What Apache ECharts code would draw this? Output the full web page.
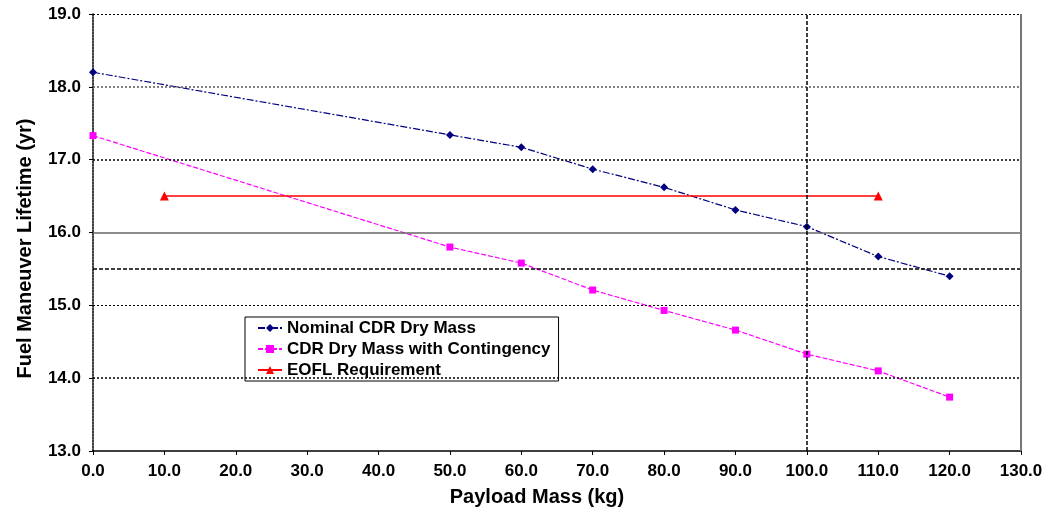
<!DOCTYPE html>
<html>
<head>
<meta charset="utf-8">
<script src="https://cdn.jsdelivr.net/npm/echarts@6/dist/echarts.min.js"></script>
<style>html,body{margin:0;padding:0;background:#fff}#c{width:1047px;height:512px}</style>
</head>
<body>
<div id="c"></div>
<script>
const payload = [0, 50, 60, 70, 80, 90, 100, 110, 120];
const nominal = [18.20, 17.34, 17.17, 16.87, 16.62, 16.31, 16.08, 15.67, 15.40];
const contingency = [17.33, 15.80, 15.58, 15.21, 14.93, 14.66, 14.33, 14.10, 13.74];
const eoflX = [10, 110];
const eoflY = [16.5, 16.5];
const seriesNames = ['Nominal CDR Dry Mass', 'CDR Dry Mass with Contingency', 'EOFL Requirement'];
const xTitle = 'Payload Mass (kg)';
const yTitle = 'Fuel Maneuver Lifetime (yr)';

const font = 'Liberation Sans, Arial, sans-serif';
const chart = echarts.init(document.getElementById('c'));

const gridLines = [
  { yAxis: 19, lineStyle: { color: '#000', type: [2, 2], width: 1 } },
  { yAxis: 18, lineStyle: { color: '#555', type: [2, 2], width: 1.5 } },
  { yAxis: 17, lineStyle: { color: '#000', type: [2, 2], width: 1.5 } },
  { yAxis: 16, lineStyle: { color: '#666', type: 'solid', width: 1.5 } },
  { yAxis: 15.5, lineStyle: { color: '#000', type: [4, 2], width: 1.5 } },
  { yAxis: 15, lineStyle: { color: '#000', type: [2, 2], width: 1 } },
  { yAxis: 14, lineStyle: { color: '#000', type: [2, 2], width: 1.5 } },
  { xAxis: 100, lineStyle: { color: '#000', type: [4, 2], width: 1.5 } },
  { xAxis: 130, lineStyle: { color: '#777', type: 'solid', width: 2 } }
];

chart.setOption({
  animation: false,
  backgroundColor: '#fff',
  grid: { left: 93, right: 26, top: 14, bottom: 59 },
  legend: {
    orient: 'vertical',
    left: 245, top: 317,
    padding: [2, 8, 2, 12],
    itemGap: 3,
    itemWidth: 24, itemHeight: 10,
    borderColor: '#000', borderWidth: 1,
    backgroundColor: '#fff',
    textStyle: { fontFamily: font, fontWeight: 'bold', fontSize: 17, lineHeight: 18, color: '#000' },
    data: seriesNames
  },
  xAxis: {
    type: 'value', min: 0, max: 130, interval: 10,
    name: xTitle, nameLocation: 'middle', nameGap: 36,
    nameTextStyle: { fontFamily: font, fontWeight: 'bold', fontSize: 20, color: '#000', padding: [0, 40, 0, 0] },
    axisLine: { lineStyle: { color: '#000', width: 1.5 } },
    axisTick: { show: true, inside: false, length: 4, lineStyle: { color: '#000' } },
    axisLabel: { fontFamily: font, fontWeight: 'bold', fontSize: 17, color: '#000', margin: 12,
      formatter: v => v.toFixed(1) },
    splitLine: { show: false }
  },
  yAxis: {
    type: 'value', min: 13, max: 19, interval: 1,
    name: yTitle, nameLocation: 'middle', nameGap: 58, nameRotate: 90,
    nameTextStyle: { fontFamily: font, fontWeight: 'bold', fontSize: 20, color: '#000', padding: [0, 32, 0, 0] },
    axisLine: { show: true, lineStyle: { color: '#000', width: 1.5, type: [2, 1] } },
    axisTick: { show: true, length: 4, lineStyle: { color: '#000' } },
    axisLabel: { fontFamily: font, fontWeight: 'bold', fontSize: 17, color: '#000', margin: 12,
      formatter: v => v.toFixed(1) },
    splitLine: { show: false }
  },
  series: [
    {
      name: 'grid', type: 'line', data: [], silent: true,
      markLine: { silent: true, symbol: 'none', label: { show: false }, data: gridLines }
    },
    {
      name: seriesNames[0], type: 'line',
      data: payload.map((x, i) => [x, nominal[i]]),
      symbol: 'diamond', symbolSize: 8,
      itemStyle: { color: '#000080' },
      lineStyle: { color: '#000080', width: 1.2, type: [7, 2, 2, 2] }
    },
    {
      name: seriesNames[1], type: 'line',
      data: payload.map((x, i) => [x, contingency[i]]),
      symbol: 'rect', symbolSize: 7,
      itemStyle: { color: '#ff00ff' },
      lineStyle: { color: '#ff00ff', width: 1.2, type: [5, 2] }
    },
    {
      name: seriesNames[2], type: 'line',
      data: eoflX.map((x, i) => [x, eoflY[i]]),
      symbol: 'triangle', symbolSize: 9,
      itemStyle: { color: '#ff0000' },
      lineStyle: { color: '#ff0000', width: 1.5 }
    }
  ]
});
</script>
</body>
</html>
